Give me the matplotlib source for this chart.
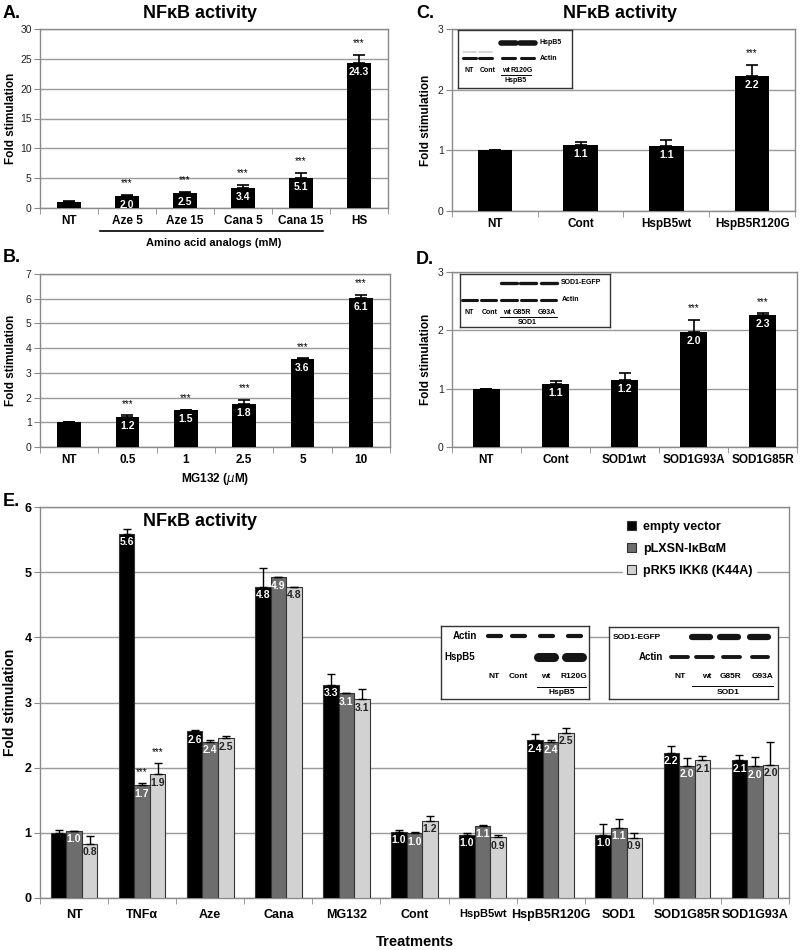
import numpy as np
import matplotlib
matplotlib.use('Agg')
import matplotlib.pyplot as plt
from matplotlib.patches import Patch
from matplotlib.transforms import blended_transform_factory

plt.rcParams['font.family'] = ['Liberation Sans', 'DejaVu Sans']
plt.rcParams['mathtext.fontset'] = 'dejavusans'

# ---------------- data ----------------
a_cats = ['NT', 'Aze 5', 'Aze 15', 'Cana 5', 'Cana 15', 'HS']
a_vals = [1.0, 2.05, 2.45, 3.35, 5.05, 24.3]
a_errs = [0.1, 0.1, 0.3, 0.5, 0.8, 1.4]
a_lbls = ['', '2.0', '2.5', '3.4', '5.1', '24.3']
a_star = [False, True, True, True, True, True]

b_cats = ['NT', '0.5', '1', '2.5', '5', '10']
b_vals = [1.0, 1.21, 1.48, 1.76, 3.57, 6.02]
b_errs = [0.02, 0.07, 0.03, 0.15, 0.02, 0.15]
b_lbls = ['', '1.2', '1.5', '1.8', '3.6', '6.1']
b_star = [False, True, True, True, True, True]

c_cats = ['NT', 'Cont', 'HspB5wt', 'HspB5R120G']
c_vals = [1.0, 1.085, 1.07, 2.22]
c_errs = [0.0, 0.06, 0.1, 0.18]
c_lbls = ['', '1.1', '1.1', '2.2']
c_star = [False, False, False, True]

d_cats = ['NT', 'Cont', 'SOD1wt', 'SOD1G93A', 'SOD1G85R']
d_vals = [1.0, 1.08, 1.155, 1.98, 2.27]
d_errs = [0.0, 0.06, 0.12, 0.2, 0.02]
d_lbls = ['', '1.1', '1.2', '2.0', '2.3']
d_star = [False, False, False, True, True]

e_cats = ['NT', 'TNFα', 'Aze', 'Cana', 'MG132', 'Cont', 'HspB5wt',
          'HspB5R120G', 'SOD1', 'SOD1G85R', 'SOD1G93A']
e_series = ['empty vector', 'pLXSN-IκBαM', 'pRK5 IKKß (K44A)']
e_empty = [0.99, 5.59, 2.56, 4.77, 3.27, 1.02, 0.97, 2.42, 0.97, 2.23, 2.11]
e_empty_err = [0.05, 0.07, 0.02, 0.29, 0.17, 0.02, 0.02, 0.10, 0.16, 0.11, 0.08]
e_empty_lbl = ['', '5.6', '2.6', '4.8', '3.3', '1.0', '1.0', '2.4', '1.0', '2.2', '2.1']
e_ikb = [1.03, 1.73, 2.40, 4.92, 3.14, 0.99, 1.11, 2.40, 1.08, 2.03, 2.02]
e_ikb_err = [0.0, 0.03, 0.02, 0.01, 0.0, 0.02, 0.01, 0.02, 0.13, 0.12, 0.14]
e_ikb_lbl = ['1.0', '1.7', '2.4', '4.9', '3.1', '1.0', '1.1', '2.4', '1.1', '2.0', '2.0']
e_ikb_star = [False, True] + [False] * 9
e_ikk = [0.83, 1.90, 2.45, 4.77, 3.05, 1.18, 0.93, 2.53, 0.92, 2.11, 2.04]
e_ikk_err = [0.12, 0.17, 0.03, 0.0, 0.16, 0.08, 0.03, 0.08, 0.07, 0.07, 0.35]
e_ikk_lbl = ['0.8', '1.9', '2.5', '4.8', '3.1', '1.2', '0.9', '2.5', '0.9', '2.1', '2.0']
e_ikk_star = [False, True] + [False] * 9

# ---------------- layout helpers ----------------
W, H = 800, 950
fig = plt.figure(figsize=(8, 9.5), dpi=100)


def rect(x0, y0, x1, y1):
    return [x0 / W, 1 - y1 / H, (x1 - x0) / W, (y1 - y0) / H]


GRID = '#9b9b9b'
SPINE = '#8a8a8a'


def style_axes(ax, cats, ymax, ystep, xfs=8.5, yfs=7.5, ybold=False):
    n = len(cats)
    ax.set_xlim(-0.5, n - 0.5)
    ax.set_ylim(0, ymax)
    ax.set_yticks(np.arange(0, ymax + 1, ystep))
    ax.yaxis.grid(True, color=GRID, lw=1)
    ax.set_axisbelow(True)
    for s in ax.spines.values():
        s.set_color(SPINE)
        s.set_linewidth(1)
    ax.set_xticks(np.arange(n))
    ax.set_xticklabels(cats, fontsize=xfs, fontweight='bold')
    ax.set_xticks(np.arange(-0.5, n), minor=True)
    ax.tick_params(axis='x', which='major', length=0, pad=5)
    ax.tick_params(axis='x', which='minor', length=4, color=SPINE, direction='out')
    ax.tick_params(axis='y', length=4, color=SPINE, labelsize=yfs,
                   labelcolor='#222' if not ybold else 'black', pad=2)
    if ybold:
        for t in ax.get_yticklabels():
            t.set_fontweight('bold')


def simple_bars(ax, vals, errs, lbls, stars, width=0.4):
    x = np.arange(len(vals))
    ax.bar(x, vals, width=width, color='black', zorder=3)
    ax.errorbar(x, vals, yerr=[np.zeros(len(errs)), errs], fmt='none',
                ecolor='black', elinewidth=1.2, capsize=4, capthick=1.2, zorder=4)
    for xi, v, lab in zip(x, vals, lbls):
        if lab:
            ax.annotate(lab, (xi, v), xytext=(0, -6.5), textcoords='offset points',
                        ha='center', va='center', color='white', fontsize=7.5,
                        fontweight='bold', zorder=5)
    ymax = ax.get_ylim()[1]
    for xi, v, e, s in zip(x, vals, errs, stars):
        if s:
            ax.text(xi, v + e + 0.065 * ymax, '***', ha='center', va='center',
                    fontsize=7, zorder=5)


def ylab(ax, x, fs=8.5):
    ax.set_ylabel('Fold stimulation', fontsize=fs, fontweight='bold')
    ax.yaxis.set_label_coords(x, 0.5)


# ---------------- Panel A ----------------
axA = fig.add_axes(rect(40, 29, 388, 208))
style_axes(axA, a_cats, 30, 5)
simple_bars(axA, a_vals, a_errs, a_lbls, a_star)
ylab(axA, -0.066)
trA = blended_transform_factory(axA.transData, axA.transAxes)
axA.plot([0.53, 4.38], [-0.126, -0.126], color='black', lw=1.2,
         transform=trA, clip_on=False)
axA.text(2.5, -0.196, 'Amino acid analogs (mM)', transform=trA, ha='center',
         va='center', fontsize=8, fontweight='bold')
fig.text(3 / W, 1 - 14 / H, 'A.', fontsize=13, fontweight='bold', va='center')
fig.text(200 / W, 1 - 13 / H, 'NFκB activity', fontsize=13, fontweight='bold',
         ha='center', va='center')

# ---------------- Panel B ----------------
axB = fig.add_axes(rect(40, 274, 390, 447))
style_axes(axB, b_cats, 7, 1)
simple_bars(axB, b_vals, b_errs, b_lbls, b_star)
ylab(axB, -0.066)
axB.text(0.5, -0.185, r'MG132 ($\mu$M)', transform=axB.transAxes, ha='center',
         va='center', fontsize=8.5, fontweight='bold')
fig.text(3 / W, 1 - 257 / H, 'B.', fontsize=13, fontweight='bold', va='center')

# ---------------- Panel C ----------------
axC = fig.add_axes(rect(452, 29, 795, 211))
style_axes(axC, c_cats, 3, 1)
simple_bars(axC, c_vals, c_errs, c_lbls, c_star)
ylab(axC, -0.058)
fig.text(416 / W, 1 - 14 / H, 'C.', fontsize=13, fontweight='bold', va='center')
fig.text(620 / W, 1 - 13 / H, 'NFκB activity', fontsize=13, fontweight='bold',
         ha='center', va='center')

# ---------------- Panel D ----------------
axD = fig.add_axes(rect(452, 272, 797, 447))
style_axes(axD, d_cats, 3, 1)
simple_bars(axD, d_vals, d_errs, d_lbls, d_star)
ylab(axD, -0.058)
fig.text(416 / W, 1 - 260 / H, 'D.', fontsize=13, fontweight='bold', va='center')

# ---------------- Panel E ----------------
axE = fig.add_axes(rect(40, 507, 789, 898))
style_axes(axE, e_cats, 6, 1, xfs=9, yfs=9, ybold=True)
axE.get_xticklabels()[6].set_fontsize(8)
axE.tick_params(axis='x', which='major', pad=8)
ylab(axE, -0.031, fs=10)
xg = np.arange(len(e_cats))
bw = 0.228
series = [
    (e_empty, e_empty_err, e_empty_lbl, None, '#000000', 'white'),
    (e_ikb, e_ikb_err, e_ikb_lbl, e_ikb_star, '#6d6d6d', 'white'),
    (e_ikk, e_ikk_err, e_ikk_lbl, e_ikk_star, '#d2d2d2', '#222222'),
]
for k, (vals, errs, lbls, stars, col, tcol) in enumerate(series):
    xs = xg + (k - 1) * bw
    axE.bar(xs, vals, bw, color=col, edgecolor='#333333', lw=0.8, zorder=3,
            label=e_series[k])
    axE.errorbar(xs, vals, yerr=[np.zeros(len(errs)), errs], fmt='none',
                 ecolor='black', elinewidth=1, capsize=3, capthick=1, zorder=4)
    for xi, v, lab in zip(xs, vals, lbls):
        if lab:
            axE.annotate(lab, (xi, v), xytext=(0, -6), textcoords='offset points',
                         ha='center', va='center', color=tcol, fontsize=7.5,
                         fontweight='bold', zorder=5)
    if stars:
        for xi, v, e, s in zip(xs, vals, errs, stars):
            if s:
                axE.text(xi, v + e + 0.17, '***', ha='center', va='center',
                         fontsize=7, zorder=5)
axE.text(0.5, -0.1125, 'Treatments', transform=axE.transAxes, ha='center',
         va='center', fontsize=10.5, fontweight='bold')
axE.text((200 - 40) / 749, 1 - (522 - 507) / 391, 'NFκB activity',
         transform=axE.transAxes, fontsize=13, fontweight='bold', ha='center',
         va='center')
handles = [Patch(facecolor=c, edgecolor='#333333', lw=0.8)
           for c in ['#000000', '#6d6d6d', '#d2d2d2']]
leg = axE.legend(handles, e_series, loc='upper left', bbox_to_anchor=(0.779, 0.975),
                 borderaxespad=0, frameon=True, fancybox=False, framealpha=1,
                 edgecolor='white', handlelength=0.7, handleheight=0.7,
                 handletextpad=0.55, labelspacing=0.82, borderpad=0.3,
                 prop={'weight': 'bold', 'size': 9})
leg.set_zorder(6)
fig.text(3 / W, 1 - 502 / H, 'E.', fontsize=13, fontweight='bold', va='center')


# ---------------- Western blot insets ----------------
def blot_axes(x0, y0, x1, y1):
    ax = fig.add_axes(rect(x0, y0, x1, y1))
    ax.set_xlim(x0, x1)
    ax.set_ylim(y1, y0)
    ax.set_xticks([])
    ax.set_yticks([])
    ax.set_facecolor('white')
    for s in ax.spines.values():
        s.set_color('#333333')
        s.set_linewidth(1)
    return ax


def band(ax, xc, y, w, lw, color='#151515'):
    ax.plot([xc - w / 2, xc + w / 2], [y, y], color=color, lw=lw,
            solid_capstyle='round')


def txt(ax, x, y, s, fs, ha='center'):
    ax.text(x, y, s, fontsize=fs, fontweight='bold', ha=ha, va='center')


# inset in C
ic = blot_axes(458, 30, 572, 88)
for xc in [469, 485.5]:
    band(ic, xc, 52, 13, 1.2, '#cfcfcf')
for xc in [508, 527.5]:
    band(ic, xc, 43, 15, 4)
for xc in [469, 485.5, 508, 527.5]:
    band(ic, xc, 58, 13, 2.2)
txt(ic, 540, 43, 'HspB5', 5, 'left')
txt(ic, 540, 58, 'Actin', 5, 'left')
for xc, s in zip([469.5, 488, 505.5, 522], ['NT', 'Cont', 'wt', 'R120G']):
    txt(ic, xc, 70, s, 5)
ic.plot([501, 531], [74.5, 74.5], color='black', lw=0.7)
txt(ic, 516, 81, 'HspB5', 5)

# inset in D
idd = blot_axes(460, 274, 610, 327)
for xc in [509, 528, 548.5]:
    band(idd, xc, 283, 16, 2.4)
for xc in [470, 489, 509, 528, 548.5]:
    band(idd, xc, 299.5, 15, 2.2)
txt(idd, 561, 283, 'SOD1-EGFP', 5, 'left')
txt(idd, 562, 299.5, 'Actin', 5, 'left')
for xc, s in zip([469, 490, 507, 522, 547], ['NT', 'Cont', 'wt', 'G85R', 'G93A']):
    txt(idd, xc, 312.7, s, 5)
idd.plot([500, 557], [317, 317], color='black', lw=0.7)
txt(idd, 527, 322, 'SOD1', 5)

# inset 1 in E
ie1 = blot_axes(441, 626, 589, 699)
txt(ie1, 477, 636, 'Actin', 7, 'right')
for xc in [494, 518, 546, 574]:
    band(ie1, xc, 636, 13, 3)
txt(ie1, 444, 657, 'HspB5', 7, 'left')
for xc in [546, 574]:
    band(ie1, xc, 657, 16, 6.5)
for xc, s in zip([494, 518, 546, 574], ['NT', 'Cont', 'wt', 'R120G']):
    txt(ie1, xc, 676, s, 6)
ie1.plot([537, 586], [687, 687], color='black', lw=0.7)
txt(ie1, 562, 692.5, 'HspB5', 6)

# inset 2 in E
ie2 = blot_axes(609, 627, 778, 699)
txt(ie2, 613, 637, 'SOD1-EGFP', 6, 'left')
for xc in [701, 729, 759]:
    band(ie2, xc, 637, 18, 4.5)
txt(ie2, 663, 657, 'Actin', 7, 'right')
for xc in [679, 704, 731, 760]:
    band(ie2, xc, 657, 17, 2.8)
for xc, s in zip([680, 707, 730, 762], ['NT', 'wt', 'G85R', 'G93A']):
    txt(ie2, xc, 676, s, 6)
ie2.plot([692, 773], [686, 686], color='black', lw=0.7)
txt(ie2, 728, 692.5, 'SOD1', 6)

fig.savefig('out.png', dpi=100, facecolor='white')
